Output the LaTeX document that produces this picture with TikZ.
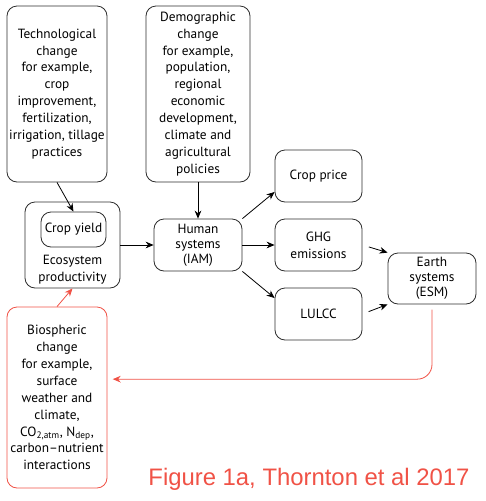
\documentclass[tikz,border=0pt]{standalone}
\usepackage{fontspec}
\setmainfont{PT Sans}
\newfontfamily\captionfont{Liberation Sans}
\usetikzlibrary{arrows.meta, positioning}
\definecolor{figred}{RGB}{240,82,70}
\definecolor{boxline}{RGB}{45,45,45}

\begin{document}
\begin{tikzpicture}[
    x=0.75pt, y=-0.75pt, font=\fontsize{10}{12.7}\selectfont, >={Stealth[length=6pt,width=5pt]},
    box/.style   ={rectangle, rounded corners=7.5pt, draw=boxline, line width=0.6pt, align=center, inner sep=1pt},
    redbox/.style={box, draw=figred},
    small/.style ={box, minimum width=65.25pt, minimum height=39pt},
    link/.style  ={->, line width=0.6pt},
]
\useasboundingbox (0,0) rectangle (486,501);
\node[box, minimum width=75pt, minimum height=132pt] (tech) at (57,94) {Technological\\ change\\ for example,\\ crop\\ improvement,\\ fertilization,\\ irrigation, tillage\\ practices};
\node[box, minimum width=78pt, minimum height=132pt] (demo) at (198,94) {Demographic\\ change\\ for example,\\ population,\\ regional\\ economic\\ development,\\ climate and\\ agricultural\\ policies};
\node[box, minimum width=71.25pt, minimum height=64.5pt] (eco) at (72.5,245) {};
\node[box, minimum width=48.75pt, minimum height=26.25pt] (crop) at (73.5,229.5) {Crop yield};
\node[align=center] (ecotext) at (72.5,270) {Ecosystem\\ productivity};
\node[box, minimum width=66pt, minimum height=39pt, font=\fontsize{10}{11.25}\selectfont] (human) at (198,245) {Human\\ systems\\ (IAM)};
\node[small] (price) at (318.5,176) {Crop price};
\node[small] (ghg)   at (318.5,245) {GHG\\ emissions};
\node[small] (lulcc) at (318.5,314) {LULCC};
\node[box, minimum width=66pt, minimum height=38.25pt, font=\fontsize{10}{11.25}\selectfont] (earth) at (432,278.5) {Earth\\ systems\\ (ESM)};
\node[redbox, minimum width=75pt, minimum height=135.75pt] (bio) at (57,397.5) {Biospheric\\ change\\ for example,\\ surface\\ weather and\\ climate,\\ CO\textsubscript{2,atm}, N\textsubscript{dep},\\ carbon--nutrient\\ interactions};
\node[anchor=base, text=figred, font=\captionfont\fontsize{17.9}{20}\selectfont] (caption) at (309,485) {Figure 1a, Thornton et al 2017};
% connectors
\draw[link] (tech.south) -- (crop.north);
\draw[link] (demo.south) -- (human.north);
\draw[link] (eco.east) -- (human.west);
\draw[link] (human.north east) -- (price.200);
\draw[link] (human.east) -- (ghg.west);
\draw[link] (human.south east) -- (lulcc.160);
\draw[link, shorten <=5pt] (ghg.east) -- (earth.north west);
\draw[link, shorten <=5pt] (lulcc.east) -- (earth.south west);
\draw[link, draw=figred, rounded corners=11pt, shorten <=4pt, shorten >=4pt] (earth.south) |- (bio.20);
\draw[link, draw=figred] (bio.north) -- (eco.south);
\end{tikzpicture}
\end{document}
